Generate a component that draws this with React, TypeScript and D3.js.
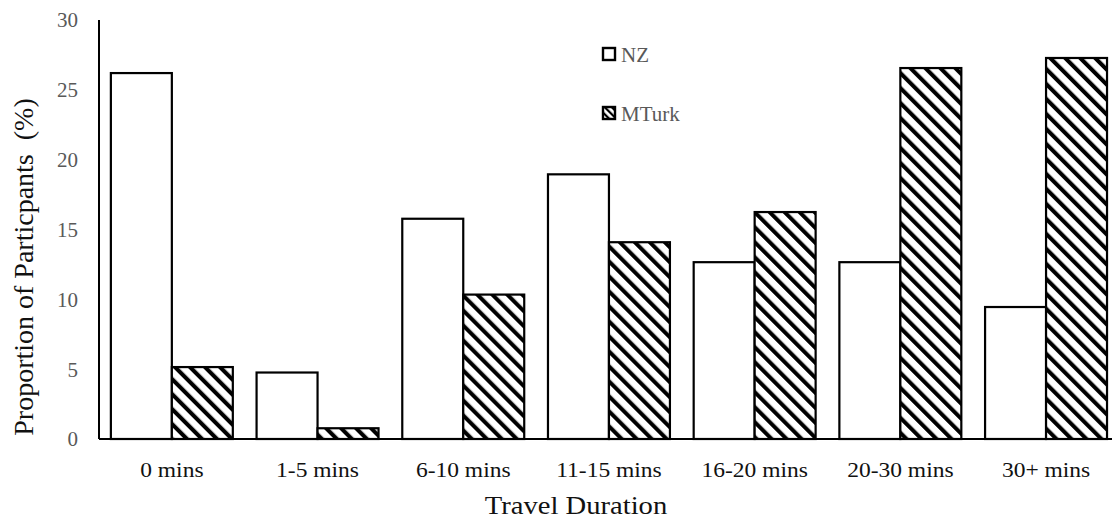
import React from "react";
import * as d3 from "d3";

const categories = ["0 mins", "1-5 mins", "6-10 mins", "11-15 mins", "16-20 mins", "20-30 mins", "30+ mins"];
const nzValues = [26.2, 4.76, 15.77, 18.95, 12.66, 12.66, 9.45];
const mturkValues = [5.15, 0.77, 10.34, 14.09, 16.25, 26.56, 27.28];
const yTicks = [0, 5, 10, 15, 20, 25, 30];
const seriesNames = ["NZ", "MTurk"];

const W = 1112;
const H = 520;
const left = 99;
const bottom = 439;
const top = 20;
const bandW = 145.7;

export default function App() {
  const x = d3
    .scaleBand<string>()
    .domain(categories)
    .range([left, left + bandW * categories.length])
    .paddingInner(0.163)
    .paddingOuter(0.0815);
  const inner = d3.scaleBand<string>().domain(seriesNames).range([0, x.bandwidth()]);
  const y = d3.scaleLinear().domain([0, 30]).range([bottom, top]);
  const font = "'Liberation Serif', 'Times New Roman', serif";
  const series = [nzValues, mturkValues];

  return (
    <svg width={W} height={H} style={{ position: "absolute", left: 0, top: 0 }} fontFamily={font}>
      <defs>
        <pattern id="hatch" patternUnits="userSpaceOnUse" width={10.6} height={10.6} patternTransform="rotate(-45)">
          <rect width={10.6} height={10.6} fill="#fff" />
          <line x1={2} y1={0} x2={2} y2={10.6} stroke="#000" strokeWidth={4.2} />
        </pattern>
        <pattern id="hatchSmall" patternUnits="userSpaceOnUse" width={5} height={5} patternTransform="rotate(-45)">
          <rect width={5} height={5} fill="#fff" />
          <line x1={1} y1={0} x2={1} y2={5} stroke="#000" strokeWidth={2.4} />
        </pattern>
      </defs>
      <rect width={W} height={H} fill="#fff" />
      {categories.map((c, i) =>
        series.map((vals, s) => (
          <rect
            key={c + s}
            x={(x(c) as number) + (inner(seriesNames[s]) as number)}
            y={y(vals[i])}
            width={inner.bandwidth()}
            height={bottom - y(vals[i])}
            fill={s === 0 ? "#fff" : "url(#hatch)"}
            stroke="#000"
            strokeWidth={2.2}
          />
        ))
      )}
      <line x1={left} x2={W} y1={bottom} y2={bottom} stroke="#000" strokeWidth={2} />
      <line x1={left} x2={left} y1={top} y2={bottom} stroke="#000" strokeWidth={2} />
      {yTicks.map((t) => (
        <text key={t} x={78} y={y(t)} dy="0.35em" textAnchor="end" fontSize={21} fill="#595959">
          {t}
        </text>
      ))}
      {categories.map((c) => (
        <text
          key={c}
          transform={`translate(${(x(c) as number) + x.bandwidth() / 2},477) scale(1.12,1)`}
          textAnchor="middle"
          fontSize={21}
          fill="#111"
        >
          {c}
        </text>
      ))}
      <text transform="translate(576,514) scale(1.1,1)" textAnchor="middle" fontSize={26} fill="#111">
        Travel Duration
      </text>
      <text
        transform={`translate(33,267) rotate(-90)`}
        textAnchor="middle"
        fontSize={28}
        fill="#111"
      >
        {"Proportion of Particpants\u00A0\u00A0(%)"}
      </text>
      {seriesNames.map((n, s) => (
        <g key={n} transform={`translate(603,${48 + s * 59})`}>
          <rect x={0} y={0} width={12} height={12} fill={s === 0 ? "#fff" : "url(#hatchSmall)"} stroke="#000" strokeWidth={2.4} />
          <text x={18} y={13.5} fontSize={21} fill="#595959">
            {n}
          </text>
        </g>
      ))}
    </svg>
  );
}
